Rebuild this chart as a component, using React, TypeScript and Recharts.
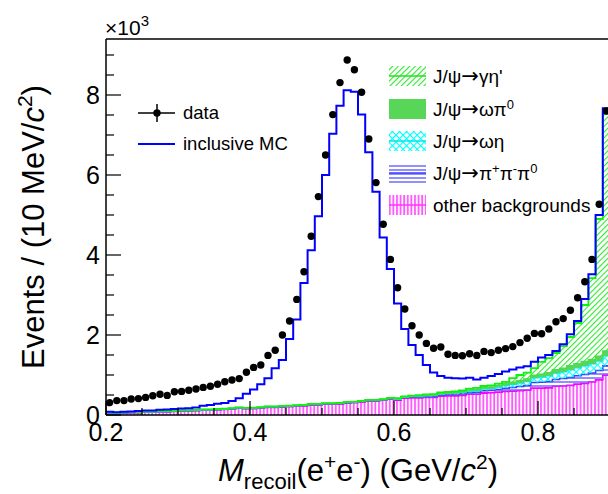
import React from 'react';
import { ComposedChart, Area, Line, Scatter, XAxis, YAxis, ReferenceLine } from 'recharts';

// 10 MeV bins from 0.2 to 0.9 GeV (values in units of 10^3 events)
const BIN_LO = 0.2;
const BIN_W = 0.01;

const DATA = [
  0.31, 0.36, 0.36, 0.40, 0.41, 0.44, 0.48, 0.52, 0.49, 0.58,
  0.59, 0.62, 0.65, 0.69, 0.72, 0.77, 0.83, 0.875, 0.91, 1.07,
  1.19, 1.25, 1.49, 1.62, 2.00, 2.35, 2.89, 3.58, 4.47, 5.46,
  6.50, 7.51, 8.31, 8.875, 8.63, 8.07, 6.90, 5.81, 4.77, 3.89,
  3.18, 2.65, 2.23, 2.00, 1.79, 1.67, 1.70, 1.52, 1.49, 1.48,
  1.53, 1.49, 1.59, 1.56, 1.62, 1.66, 1.71, 1.81, 1.92, 2.04,
  2.03, 2.15, 2.33, 2.41, 2.62, 2.93, 3.33, 3.89, 5.27, 7.60,
];

const INCLUSIVE_MC = [
  0.08, 0.07, 0.08, 0.09, 0.10, 0.11, 0.11, 0.13, 0.14, 0.15,
  0.16, 0.17, 0.19, 0.23, 0.25, 0.28, 0.30, 0.35, 0.42, 0.53,
  0.64, 0.77, 0.92, 1.17, 1.375, 1.90, 2.39, 3.30, 4.12, 4.97,
  6.00, 7.03, 7.73, 8.12, 8.08, 7.51, 6.57, 5.58, 4.44, 3.65,
  2.79, 2.15, 1.75, 1.50, 1.25, 1.06, 0.975, 0.93, 0.92, 0.91,
  0.93, 0.89, 0.93, 0.975, 1.025, 1.09, 1.14, 1.19, 1.22, 1.33,
  1.44, 1.50, 1.60, 1.77, 2.02, 2.35, 2.90, 3.52, 5.00, 7.67,
];

const OTHER_BKG = [
  0.05, 0.04, 0.05, 0.06, 0.06, 0.07, 0.07, 0.08, 0.08, 0.09,
  0.10, 0.10, 0.11, 0.12, 0.12, 0.13, 0.14, 0.15, 0.17, 0.16,
  0.16, 0.17, 0.19, 0.19, 0.20, 0.21, 0.22, 0.23, 0.25, 0.25,
  0.27, 0.27, 0.28, 0.30, 0.31, 0.33, 0.35, 0.35, 0.37, 0.40,
  0.37, 0.42, 0.43, 0.43, 0.44, 0.44, 0.47, 0.48, 0.48, 0.49,
  0.52, 0.52, 0.55, 0.56, 0.57, 0.59, 0.60, 0.61, 0.62, 0.67,
  0.67, 0.68, 0.72, 0.73, 0.74, 0.77, 0.79, 0.83, 0.88, 1.00,
];

const BKG_PIPIPI0 = [
  0.005, 0.005, 0.005, 0.005, 0.005, 0.005, 0.005, 0.005, 0.005, 0.005,
  0.005, 0.005, 0.005, 0.005, 0.005, 0.005, 0.005, 0.005, 0.005, 0.005,
  0.01, 0.01, 0.01, 0.01, 0.01, 0.01, 0.01, 0.01, 0.01, 0.01,
  0.01, 0.01, 0.01, 0.01, 0.01, 0.01, 0.01, 0.01, 0.01, 0.01,
  0.015, 0.015, 0.02, 0.02, 0.025, 0.025, 0.03, 0.03, 0.035, 0.04,
  0.045, 0.05, 0.055, 0.06, 0.07, 0.08, 0.09, 0.10, 0.12, 0.14,
  0.15, 0.16, 0.17, 0.18, 0.20, 0.21, 0.22, 0.22, 0.23, 0.23,
];

const BKG_OMEGA_ETA = [
  0.005, 0.005, 0.005, 0.005, 0.005, 0.005, 0.005, 0.005, 0.005, 0.005,
  0.005, 0.005, 0.005, 0.005, 0.005, 0.005, 0.005, 0.005, 0.005, 0.005,
  0.005, 0.005, 0.005, 0.005, 0.005, 0.005, 0.005, 0.005, 0.005, 0.005,
  0.005, 0.005, 0.005, 0.005, 0.005, 0.005, 0.005, 0.005, 0.005, 0.005,
  0.01, 0.01, 0.012, 0.015, 0.015, 0.02, 0.02, 0.025, 0.025, 0.03,
  0.035, 0.04, 0.045, 0.05, 0.06, 0.07, 0.08, 0.09, 0.10, 0.12,
  0.13, 0.14, 0.16, 0.17, 0.19, 0.20, 0.22, 0.23, 0.24, 0.25,
];

const BKG_OMEGA_PI0 = [
  0.005, 0.005, 0.005, 0.005, 0.005, 0.005, 0.005, 0.005, 0.005, 0.005,
  0.005, 0.005, 0.005, 0.005, 0.005, 0.005, 0.005, 0.005, 0.005, 0.005,
  0.005, 0.005, 0.005, 0.005, 0.005, 0.005, 0.005, 0.005, 0.005, 0.005,
  0.005, 0.005, 0.005, 0.005, 0.005, 0.005, 0.005, 0.005, 0.005, 0.005,
  0.01, 0.01, 0.012, 0.014, 0.015, 0.016, 0.018, 0.02, 0.02, 0.022,
  0.025, 0.028, 0.03, 0.033, 0.036, 0.04, 0.05, 0.055, 0.06, 0.065,
  0.07, 0.075, 0.08, 0.09, 0.10, 0.10, 0.11, 0.11, 0.12, 0.12,
];

const BKG_GAMMA_ETAP = [
  0.005, 0.005, 0.005, 0.005, 0.005, 0.005, 0.005, 0.005, 0.005, 0.005,
  0.005, 0.005, 0.005, 0.005, 0.005, 0.005, 0.005, 0.005, 0.005, 0.005,
  0.005, 0.005, 0.005, 0.005, 0.005, 0.005, 0.005, 0.005, 0.005, 0.005,
  0.005, 0.005, 0.005, 0.005, 0.005, 0.005, 0.005, 0.005, 0.005, 0.005,
  0.015, 0.01, 0.012, 0.015, 0.02, 0.02, 0.025, 0.025, 0.03, 0.03,
  0.035, 0.04, 0.045, 0.04, 0.05, 0.05, 0.10, 0.145, 0.16, 0.175,
  0.31, 0.365, 0.42, 0.55, 0.72, 1.02, 1.41, 2.03, 3.43, 5.94,
];

const X_TICKS = [0.2, 0.25, 0.3, 0.35, 0.4, 0.45, 0.5, 0.55, 0.6, 0.65, 0.7, 0.75, 0.8, 0.85, 0.9];
const X_LABELS = [0.2, 0.4, 0.6, 0.8];
const Y_TICKS = [0, 0.5, 1, 1.5, 2, 2.5, 3, 3.5, 4, 4.5, 5, 5.5, 6, 6.5, 7, 7.5, 8, 8.5, 9];
const Y_LABELS = [0, 2, 4, 6, 8];
const Y_MAX = 9.4;

// layout
const W = 620;
const H = 494;
const LEFT = 106;
const TOP = 39;
const BOTTOM = 415;
const FONT = '"Liberation Sans", Arial, Helvetica, sans-serif';

// step histograms: one row per bin low edge, plus a closing edge
const rows = [...DATA, DATA[DATA.length - 1]].map((_, i) => {
  const j = Math.min(i, DATA.length - 1);
  return {
    x: +(BIN_LO + i * BIN_W).toFixed(3),
    other: OTHER_BKG[j],
    pipipi0: BKG_PIPIPI0[j],
    omegaEta: BKG_OMEGA_ETA[j],
    omegaPi0: BKG_OMEGA_PI0[j],
    gammaEtaP: BKG_GAMMA_ETAP[j],
    mc: INCLUSIVE_MC[j],
  };
});

const points = DATA.map((y, i) => ({ x: +(BIN_LO + (i + 0.5) * BIN_W).toFixed(4), y }));

const YTick = (props: any) => {
  const { y, payload } = props;
  const v = payload.value;
  const major = Y_LABELS.includes(v);
  return (
    <g>
      <line x1={LEFT} x2={LEFT + (major ? 15 : 8)} y1={y} y2={y} stroke="#000" strokeWidth={1.2} />
      {major && (
        <text x={100} y={y} dy="0.35em" textAnchor="end" fontSize={25} fill="#000" fontFamily={FONT}>
          {v}
        </text>
      )}
    </g>
  );
};

const XTick = (props: any) => {
  const { x, payload } = props;
  const v = payload.value;
  const major = X_LABELS.includes(v);
  return (
    <g>
      <line x1={x} x2={x} y1={BOTTOM} y2={BOTTOM - (major ? 14 : 7)} stroke="#000" strokeWidth={1.2} />
      {major && (
        <text x={x} y={441} textAnchor="middle" fontSize={25} fill="#000" fontFamily={FONT}>
          {v.toFixed(1)}
        </text>
      )}
    </g>
  );
};

const DataDot = (props: any) => <circle cx={props.cx} cy={props.cy} r={3.7} fill="#000" />;

const Arrow = () => (
  <tspan fontFamily='"DejaVu Sans", sans-serif' fontSize={21}>→</tspan>
);

const LEGEND_ROWS = [
  { fill: 'url(#hatchGEtaP)', line: '#22e022' },
  { fill: '#57d657', line: '#57d657' },
  { fill: 'url(#hatchOmegaEta)', line: '#00e8e8' },
  { fill: 'url(#hatchPiPiPi)', line: '#3a3aff' },
  { fill: 'url(#hatchOther)', line: '#ff33ff' },
];
const LEGEND_Y = [76, 109, 141, 173, 205];

export default function App() {
  return (
    <div style={{ position: 'absolute', left: 0, top: 0, width: 608, height: H, overflow: 'hidden', background: '#fff', fontFamily: FONT }}>
      <ComposedChart width={W} height={H} data={rows} margin={{ top: TOP, right: W - 610, left: 0, bottom: 0 }}>
        <defs>
          <pattern id="hatchGEtaP" width="4" height="4" patternUnits="userSpaceOnUse" patternTransform="rotate(45)">
            <line x1="0.5" y1="0" x2="0.5" y2="4" stroke="#2ee82e" strokeWidth="1.2" />
          </pattern>
          <pattern id="hatchOmegaEta" width="5" height="5" patternUnits="userSpaceOnUse" patternTransform="rotate(45)">
            <line x1="0.5" y1="0" x2="0.5" y2="5" stroke="#00ffff" strokeWidth="1.2" />
            <line x1="0" y1="0.5" x2="5" y2="0.5" stroke="#00ffff" strokeWidth="1.2" />
          </pattern>
          <pattern id="hatchPiPiPi" width="4" height="4" patternUnits="userSpaceOnUse">
            <line x1="0" y1="2" x2="4" y2="2" stroke="#7474ff" strokeWidth="1.6" />
          </pattern>
          <pattern id="hatchOther" width="3.6" height="4" patternUnits="userSpaceOnUse">
            <line x1="1" y1="0" x2="1" y2="4" stroke="#ff55ff" strokeWidth="1.8" />
          </pattern>
        </defs>
        <XAxis
          dataKey="x"
          type="number"
          domain={[0.2, 0.9]}
          ticks={X_TICKS}
          interval={0}
          tick={<XTick />}
          tickLine={false}
          axisLine={{ stroke: '#000', strokeWidth: 1.5 }}
          height={H - BOTTOM}
          allowDataOverflow
        />
        <YAxis
          type="number"
          domain={[0, Y_MAX]}
          ticks={Y_TICKS}
          interval={0}
          tick={<YTick />}
          tickLine={false}
          axisLine={{ stroke: '#000', strokeWidth: 1.5 }}
          width={LEFT}
          allowDataOverflow
        />
        <Area dataKey="other" stackId="bkg" type="stepAfter" stroke="#ff00ff" strokeWidth={1.8} fill="url(#hatchOther)" fillOpacity={1} isAnimationActive={false} dot={false} activeDot={false} />
        <Area dataKey="pipipi0" stackId="bkg" type="stepAfter" stroke="#3a3aff" strokeWidth={1.5} fill="url(#hatchPiPiPi)" fillOpacity={1} isAnimationActive={false} dot={false} activeDot={false} />
        <Area dataKey="omegaEta" stackId="bkg" type="stepAfter" stroke="#00e8e8" strokeWidth={1.5} fill="url(#hatchOmegaEta)" fillOpacity={1} isAnimationActive={false} dot={false} activeDot={false} />
        <Area dataKey="omegaPi0" stackId="bkg" type="stepAfter" stroke="#57d657" strokeWidth={1.5} fill="#57d657" fillOpacity={1} isAnimationActive={false} dot={false} activeDot={false} />
        <Area dataKey="gammaEtaP" stackId="bkg" type="stepAfter" stroke="#11ee11" strokeWidth={1.8} fill="url(#hatchGEtaP)" fillOpacity={1} isAnimationActive={false} dot={false} activeDot={false} />
        <Line dataKey="mc" type="stepAfter" stroke="#0000ff" strokeWidth={2} dot={false} activeDot={false} isAnimationActive={false} />
        <Scatter data={points} dataKey="y" shape={<DataDot />} isAnimationActive={false} />
        <ReferenceLine y={Y_MAX} stroke="#000" strokeWidth={1.5} />
      </ComposedChart>

      <svg width={608} height={H} style={{ position: 'absolute', left: 0, top: 0, pointerEvents: 'none' }} fontFamily={FONT}>
        {/* exponent */}
        <text x={105} y={35} fontSize={21} fill="#000">
          ×10<tspan dy={-9} fontSize={15}>3</tspan>
        </text>

        {/* axis titles, centred on the axes */}
        <text transform="translate(44,227) rotate(-90)" textAnchor="middle" fontSize={31} fill="#000">
          Events / (10 MeV/<tspan fontStyle="italic">c</tspan>
          <tspan dy={-12} fontSize={21}>2</tspan>
          <tspan dy={12}>)</tspan>
        </text>
        <text x={358} y={481} textAnchor="middle" fontSize={31} fill="#000">
          <tspan fontStyle="italic">M</tspan>
          <tspan dy={8} fontSize={22}>recoil</tspan>
          <tspan dy={-8}>(e</tspan>
          <tspan dy={-12} fontSize={21}>+</tspan>
          <tspan dy={12}>e</tspan>
          <tspan dy={-12} fontSize={21}>-</tspan>
          <tspan dy={12}>) (GeV/</tspan>
          <tspan fontStyle="italic">c</tspan>
          <tspan dy={-12} fontSize={21}>2</tspan>
          <tspan dy={12}>)</tspan>
        </text>

        {/* left legend */}
        <line x1={138} x2={175} y1={113} y2={113} stroke="#000" strokeWidth={1.5} />
        <line x1={157} x2={157} y1={104} y2={122} stroke="#000" strokeWidth={1.5} />
        <circle cx={157} cy={113} r={3.7} fill="#000" />
        <text x={183} y={113} dy="0.35em" fontSize={18.5} fill="#000">data</text>
        <line x1={138} x2={175} y1={144} y2={144} stroke="#0000ff" strokeWidth={2} />
        <text x={183} y={144} dy="0.35em" fontSize={18.5} fill="#000">inclusive MC</text>

        {/* right legend */}
        {LEGEND_ROWS.map((r, i) => (
          <g key={i}>
            <rect x={389} y={LEGEND_Y[i] - 10} width={37} height={20} fill={r.fill} />
            <line x1={389} x2={426} y1={LEGEND_Y[i]} y2={LEGEND_Y[i]} stroke={r.line} strokeWidth={1.5} />
          </g>
        ))}
        <text x={433} y={LEGEND_Y[0]} dy="0.35em" fontSize={19} fill="#000">
          J/ψ<Arrow />γη'
        </text>
        <text x={433} y={LEGEND_Y[1]} dy="0.35em" fontSize={19} fill="#000">
          J/ψ<Arrow />ωπ<tspan dy={-7} fontSize={13}>0</tspan>
        </text>
        <text x={433} y={LEGEND_Y[2]} dy="0.35em" fontSize={19} fill="#000">
          J/ψ<Arrow />ωη
        </text>
        <text x={433} y={LEGEND_Y[3]} dy="0.35em" fontSize={19} fill="#000">
          J/ψ<Arrow />π<tspan dy={-7} fontSize={13}>+</tspan>
          <tspan dy={7}>π</tspan>
          <tspan dy={-7} fontSize={13}>-</tspan>
          <tspan dy={7}>π</tspan>
          <tspan dy={-7} fontSize={13}>0</tspan>
        </text>
        <text x={433} y={LEGEND_Y[4]} dy="0.35em" fontSize={19} fill="#000">other backgrounds</text>
      </svg>
    </div>
  );
}
